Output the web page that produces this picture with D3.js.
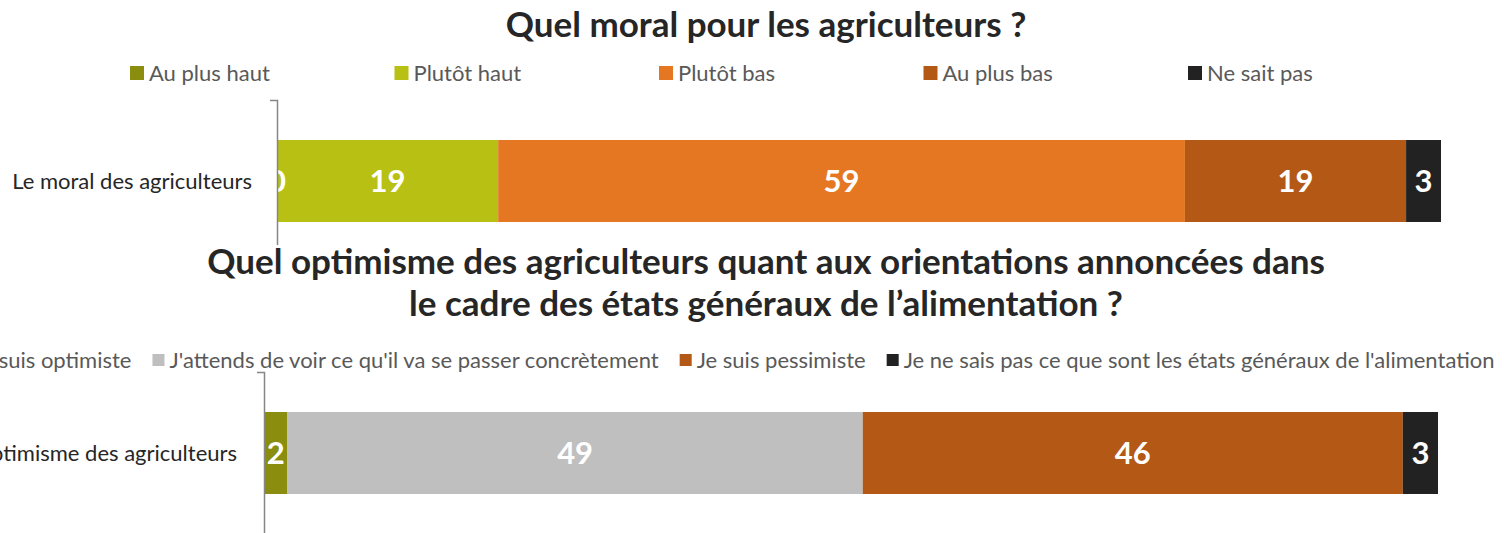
<!DOCTYPE html>
<html>
<head>
<meta charset="utf-8">
<script src="https://cdn.jsdelivr.net/npm/d3@7"></script>
<style>
  html, body { margin: 0; padding: 0; background: #fff; }
  svg { display: block; font-family: Lato, "Open Sans", sans-serif; }
  .title { font-weight: bold; fill: #262626; font-size: 35px; }
  .legend text { fill: #595959; font-size: 22px; }
  .axis path { stroke: #868686; stroke-width: 1.5; fill: none; }
  .axis text { fill: #262626; font-size: 22px; font-family: Lato, "Open Sans", sans-serif; }
  .val { fill: #fff; font-weight: bold; font-size: 31px; }
</style>
</head>
<body>
<svg id="chart" width="1507" height="533"></svg>
<script>
// Chart 1: morale
const moralCategory = ['Le moral des agriculteurs'];
const moralSeries = ['Au plus haut', 'Plutôt haut', 'Plutôt bas', 'Au plus bas', 'Ne sait pas'];
const moralValues = [0, 19, 59, 19, 3];
const moralColors = ['#8a8d0e', '#b8c013', '#e67722', '#b45816', '#222222'];

// Chart 2: optimism about the EGA
const optiCategory = ["L'optimisme des agriculteurs"];
const optiSeries = ['Je suis optimiste', "J'attends de voir ce qu'il va se passer concrètement", 'Je suis pessimiste', "Je ne sais pas ce que sont les états généraux de l'alimentation"];
const optiValues = [2, 49, 46, 3];
const optiColors = ['#8a8d0e', '#bfbfbf', '#b45816', '#222222'];

const svg = d3.select('#chart');

function drawBar(cfg) {
  const x = d3.scaleLinear().domain([0, 100]).range([cfg.left, cfg.right]);
  const y = d3.scaleBand().domain(cfg.category).range([cfg.top, cfg.bottom]).padding(0.328);

  const stacked = [];
  let acc = 0;
  cfg.values.forEach((v, i) => { stacked.push({ v, x0: acc, x1: acc + v, color: cfg.colors[i] }); acc += v; });

  const g = svg.append('g');
  const clipId = 'clip' + cfg.top;
  svg.append('clipPath').attr('id', clipId)
    .append('rect').attr('x', cfg.left - 2).attr('y', cfg.top).attr('width', cfg.right - cfg.left + 20).attr('height', cfg.bottom - cfg.top);

  g.selectAll('rect.seg').data(stacked).enter().append('rect')
    .attr('class', 'seg')
    .attr('x', d => x(d.x0))
    .attr('width', d => Math.max(x(d.x1) - x(d.x0), d.v === 0 ? 2 : 0))
    .attr('y', y(cfg.category[0]))
    .attr('height', y.bandwidth())
    .attr('fill', d => d.color);

  g.append('g').attr('clip-path', `url(#${clipId})`)
    .selectAll('text').data(stacked).enter().append('text')
    .attr('class', 'val')
    .attr('x', d => x((d.x0 + d.x1) / 2))
    .attr('y', y(cfg.category[0]) + y.bandwidth() / 2)
    .attr('dy', '0.35em')
    .attr('text-anchor', 'middle')
    .text(d => d.v);

  g.append('g').attr('class', 'axis')
    .attr('transform', `translate(${cfg.left},0)`)
    .call(d3.axisLeft(y).tickSize(0).tickSizeOuter(7).tickPadding(cfg.labelPad))
    .call(a => a.selectAll('.tick text').attr('dy', '0.35em'));
}

function drawLegend(series, colors, positions, yPos, sq, gap) {
  const lg = svg.append('g').attr('class', 'legend');
  series.forEach((s, i) => {
    lg.append('rect').attr('x', positions[i]).attr('y', yPos - sq / 2).attr('width', sq).attr('height', sq).attr('fill', colors[i]);
    lg.append('text').attr('x', positions[i] + sq + gap).attr('y', yPos).attr('dy', '0.35em').text(s);
  });
}

// Chart 1
drawBar({ category: moralCategory, values: moralValues, colors: moralColors, left: 277, right: 1441, top: 100, bottom: 262, labelPad: 25 });
const lx1 = d3.scalePoint().domain(moralSeries).range([130, 1188]);
drawLegend(moralSeries, moralColors, moralSeries.map(s => lx1(s)), 73, 14, 5);

// Chart 2
drawBar({ category: optiCategory, values: optiValues, colors: optiColors, left: 264, right: 1438, top: 372, bottom: 534, labelPad: 27 });

// legend 2: flowing layout, centred
(function () {
  const sq = 12, gapText = 5, gapItem = 21;
  const tmp = svg.append('text').style('font-size', '22px');
  const widths = optiSeries.map(s => { tmp.text(s); return tmp.node().getComputedTextLength(); });
  tmp.remove();
  const total = d3.sum(widths) + optiSeries.length * (sq + gapText) + (optiSeries.length - 1) * gapItem;
  let cx = 725 - total / 2;
  const pos = widths.map(w => { const p = cx; cx += sq + gapText + w + gapItem; return p; });
  drawLegend(optiSeries, optiColors, pos, 360, sq, gapText);
})();

// Titles (drawn last, over the axis)
svg.append('text').attr('class', 'title').attr('x', 766).attr('y', 25).attr('dy', '0.35em').attr('text-anchor', 'middle')
  .text('Quel moral pour les agriculteurs ?');
svg.append('rect').attr('x', 200).attr('y', 245).attr('width', 1130).attr('height', 80).attr('fill', '#fff');
svg.append('text').attr('class', 'title').attr('x', 766).attr('y', 262).attr('dy', '0.35em').attr('text-anchor', 'middle')
  .text('Quel optimisme des agriculteurs quant aux orientations annoncées dans');
svg.append('text').attr('class', 'title').attr('x', 766).attr('y', 304).attr('dy', '0.35em').attr('text-anchor', 'middle')
  .text('le cadre des états généraux de l’alimentation ?');
</script>
</body>
</html>
